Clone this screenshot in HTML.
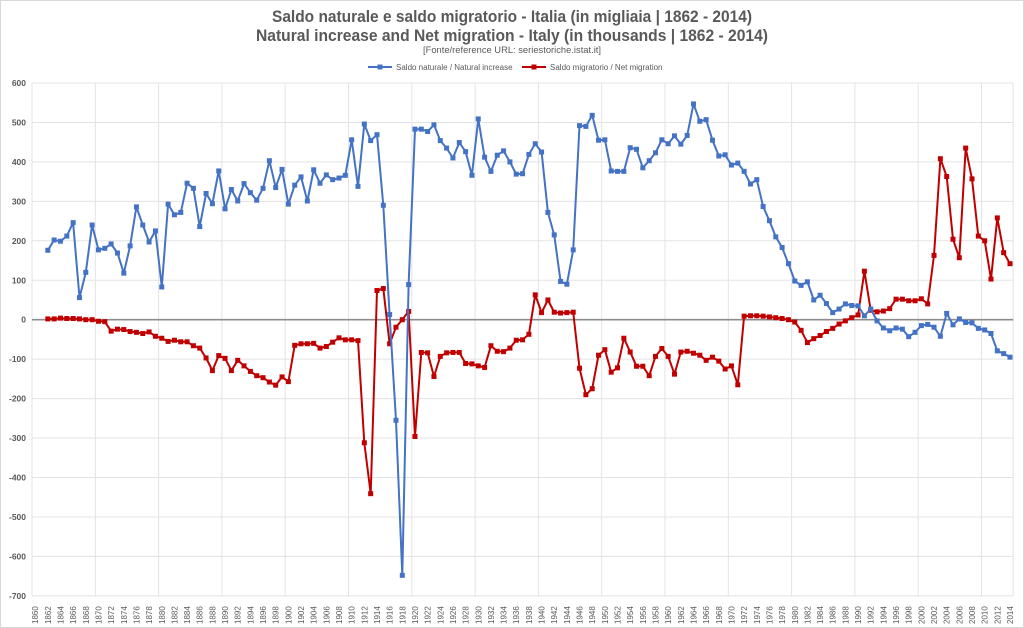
<!DOCTYPE html>
<html><head><meta charset="utf-8"><style>
body{margin:0;background:#fff;}
svg{display:block;font-family:"Liberation Sans",sans-serif;}
</style></head><body>
<svg id="s" width="1024" height="628" viewBox="0 0 1024 628" xmlns="http://www.w3.org/2000/svg">
<rect x="0.5" y="0.5" width="1023" height="627" fill="#fff" stroke="#d9d9d9"/>
<text x="272" y="22" textLength="480" lengthAdjust="spacingAndGlyphs" font-size="17" font-weight="bold" fill="#595959">Saldo naturale e saldo migratorio - Italia (in migliaia | 1862 - 2014)</text>
<text x="256" y="41" textLength="512" lengthAdjust="spacingAndGlyphs" font-size="17" font-weight="bold" fill="#595959">Natural increase and Net migration - Italy (in thousands | 1862 - 2014)</text>
<text x="423" y="53" textLength="178" lengthAdjust="spacingAndGlyphs" font-size="9.5" fill="#595959">[Fonte/reference URL:  seriestoriche.istat.it]</text>
<line x1="368" y1="67" x2="392" y2="67" stroke="#4472C4" stroke-width="2"/><rect x="377.5" y="64.5" width="5" height="5" fill="#4472C4"/>
<text x="396" y="70" font-size="8" fill="#595959">Saldo naturale / Natural increase</text>
<line x1="522" y1="67" x2="546" y2="67" stroke="#C00000" stroke-width="2"/><rect x="531.5" y="64.5" width="5" height="5" fill="#C00000"/>
<text x="550" y="70" font-size="8" fill="#595959">Saldo migratorio / Net migration</text>
<g id="g"></g>
</svg>
<script>
var ns="http://www.w3.org/2000/svg",g=document.getElementById('g');
function el(t,a,txt){var e=document.createElementNS(ns,t);for(var k in a)e.setAttribute(k,a[k]);if(txt!==undefined)e.textContent=txt;g.appendChild(e);return e;}
var L=32,W=6.33,Y0=319.7,S=0.3945;
function X(y){return L+(y-1859.5)*W;}function Yv(v){return Y0-v*S;}
for(var v=600;v>=-700;v-=100){var y=Yv(v);
 if(v!=0)el('line',{x1:L,x2:L+155*W,y1:y,y2:y,stroke:'#e3e3e3','stroke-width':1});
 el('text',{x:26,y:y+3,'text-anchor':'end','font-size':8.5,'font-weight':'bold',fill:'#595959'},v);}
for(var i=0;i<=155;i+=10){var x=L+i*W;el('line',{x1:x,x2:x,y1:Yv(600),y2:Yv(-700),stroke:'#e3e3e3'});}
el('line',{x1:L+155*W,x2:L+155*W,y1:Yv(600),y2:Yv(-700),stroke:'#e3e3e3'});
for(var yr=1860;yr<=2014;yr+=2){var x=X(yr)+3;el('text',{x:x,y:624,'font-size':8,fill:'#595959',transform:'rotate(-90 '+x+' 624)'},yr);}
el('line',{x1:L,x2:L+155*W,y1:Y0,y2:Y0,stroke:'#8c8c8c','stroke-width':1.6});
var B=[176,202,199,212,246,56,120,240,177,181,192,169,118,187,286,240,197,225,83,293,266,272,346,333,236,320,294,377,281,330,301,345,322,303,333,403,335,381,293,341,362,301,380,346,367,355,359,366,456,338,496,454,469,290,13,-255,-648,89,483,483,477,494,454,435,410,449,426,366,509,412,376,417,428,400,369,370,419,446,425,272,215,97,90,177,492,490,518,455,456,377,376,376,436,432,385,403,423,456,446,466,445,467,547,503,507,455,415,418,392,397,376,344,355,287,251,210,183,142,98,87,96,50,62,41,18,27,40,36,35,10,27,-3,-21,-28,-21,-24,-43,-32,-15,-12,-19,-42,16,-13,2,-7,-8,-22,-26,-35,-79,-86,-95];
var R=[2,2,4,3,3,2,0,0,-4,-5,-29,-24,-25,-30,-32,-35,-31,-42,-47,-55,-52,-56,-56,-66,-72,-97,-129,-91,-98,-129,-103,-117,-131,-142,-147,-158,-166,-145,-157,-65,-61,-61,-60,-72,-68,-57,-46,-51,-51,-53,-312,-441,74,79,-61,-19,0,21,-296,-83,-84,-144,-93,-84,-83,-83,-111,-112,-117,-121,-66,-80,-81,-72,-52,-51,-37,63,18,50,19,17,18,19,-123,-190,-175,-90,-76,-133,-122,-47,-82,-118,-118,-142,-93,-73,-93,-138,-82,-80,-85,-90,-103,-95,-105,-125,-117,-165,9,10,10,9,7,5,3,0,-6,-27,-58,-48,-40,-30,-22,-11,-3,5,12,123,24,20,22,28,52,52,48,48,53,40,163,408,363,204,157,435,357,212,200,103,258,170,142];
function ser(d,c){var p='';d.forEach(function(v,i){p+=(i?'L':'M')+X(1862+i).toFixed(1)+' '+Yv(v).toFixed(1);});
 el('path',{d:p,fill:'none',stroke:c,'stroke-width':2,'stroke-linejoin':'round'});
 d.forEach(function(v,i){el('rect',{x:X(1862+i)-2.5,y:Yv(v)-2.5,width:5,height:5,fill:c});});}
ser(R,'#C00000');ser(B,'#4472C4');
</script>
</body></html>
